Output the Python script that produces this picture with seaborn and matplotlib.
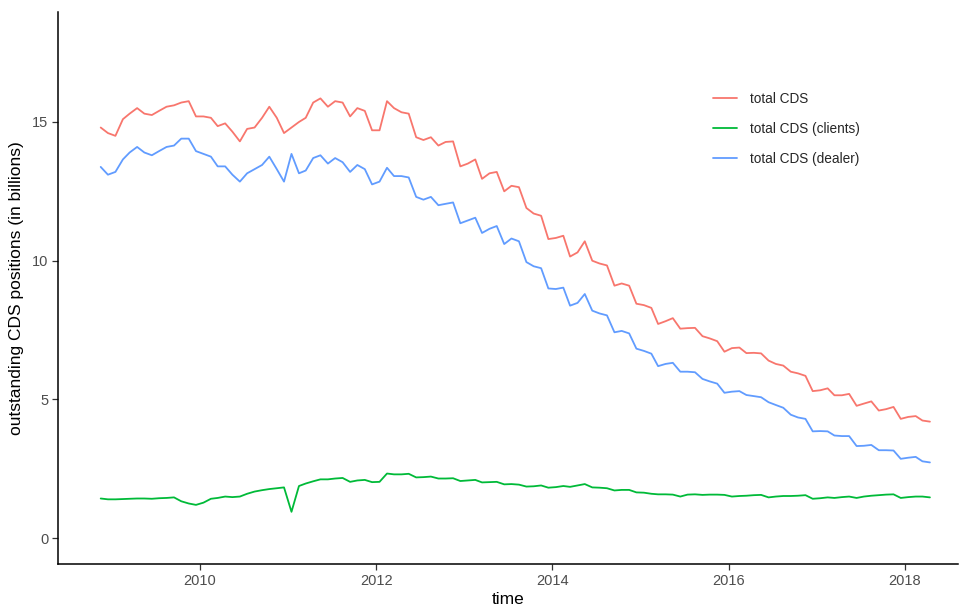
import pandas as pd
import numpy as np
import seaborn as sns
import matplotlib.pyplot as plt
import matplotlib.dates as mdates

# monthly readings (15th of each month), Nov 2008 - Apr 2018
dates = pd.date_range('2008-11-01', periods=114, freq='MS') + pd.Timedelta(days=14)

total_cds = [14.8, 14.6, 14.5, 15.1, 15.3, 15.5, 15.3, 15.25, 15.4, 15.55,
             15.6, 15.7, 15.75, 15.2, 15.2, 15.15, 14.85, 14.95, 14.65, 14.3,
             14.75, 14.8, 15.15, 15.55, 15.15, 14.6, 14.8, 15.0, 15.15, 15.7,
             15.85, 15.55, 15.75, 15.7, 15.2, 15.5, 15.4, 14.7, 14.7, 15.75,
             15.5, 15.35, 15.3, 14.45, 14.35, 14.45, 14.15, 14.28, 14.3, 13.4,
             13.5, 13.65, 12.95, 13.15, 13.2, 12.5, 12.7, 12.65, 11.9, 11.7,
             11.62, 10.78, 10.82, 10.9, 10.15, 10.3, 10.7, 10.0, 9.9, 9.83,
             9.1, 9.18, 9.1, 8.45, 8.4, 8.3, 7.72, 7.82, 7.93, 7.55,
             7.57, 7.58, 7.28, 7.2, 7.1, 6.72, 6.85, 6.87, 6.67, 6.68,
             6.66, 6.4, 6.28, 6.22, 6.0, 5.94, 5.85, 5.3, 5.33, 5.4,
             5.15, 5.15, 5.2, 4.77, 4.85, 4.93, 4.6, 4.65, 4.73, 4.3,
             4.37, 4.4, 4.24, 4.2]

total_clients = [1.43, 1.40, 1.40, 1.41, 1.42, 1.43, 1.43, 1.42, 1.44, 1.45,
                 1.47, 1.33, 1.25, 1.2, 1.28, 1.42, 1.45, 1.5, 1.48, 1.5,
                 1.6, 1.68, 1.73, 1.77, 1.8, 1.83, 0.95, 1.88, 1.97, 2.05,
                 2.12, 2.12, 2.15, 2.17, 2.03, 2.08, 2.1, 2.02, 2.03, 2.33,
                 2.3, 2.3, 2.32, 2.19, 2.2, 2.22, 2.15, 2.15, 2.16, 2.06,
                 2.08, 2.1, 2.01, 2.02, 2.03, 1.94, 1.95, 1.93, 1.86, 1.87,
                 1.9, 1.82, 1.84, 1.88, 1.85, 1.9, 1.95, 1.83, 1.82, 1.8,
                 1.72, 1.74, 1.74, 1.65, 1.64, 1.6, 1.58, 1.58, 1.57, 1.5,
                 1.57, 1.58, 1.56, 1.57, 1.57, 1.56, 1.5, 1.52, 1.53, 1.55,
                 1.56, 1.47, 1.5, 1.52, 1.52, 1.53, 1.55, 1.42, 1.44, 1.47,
                 1.45, 1.48, 1.5, 1.45, 1.5, 1.53, 1.55, 1.57, 1.58, 1.45,
                 1.48, 1.5, 1.5, 1.47]

total_dealer = [13.38, 13.1, 13.2, 13.65, 13.9, 14.1, 13.9, 13.8, 13.95, 14.1,
                14.15, 14.4, 14.4, 13.95, 13.85, 13.75, 13.4, 13.4, 13.1, 12.85,
                13.15, 13.3, 13.45, 13.75, 13.3, 12.85, 13.85, 13.15, 13.25, 13.7,
                13.8, 13.5, 13.7, 13.55, 13.2, 13.45, 13.3, 12.75, 12.85, 13.35,
                13.05, 13.05, 13.0, 12.3, 12.2, 12.3, 12.0, 12.05, 12.1, 11.35,
                11.45, 11.55, 11.0, 11.15, 11.25, 10.6, 10.8, 10.7, 9.95, 9.8,
                9.73, 9.0, 8.98, 9.03, 8.38, 8.48, 8.8, 8.2, 8.1, 8.03,
                7.42, 7.47, 7.38, 6.83, 6.75, 6.65, 6.2, 6.28, 6.32, 6.0,
                6.0, 5.98, 5.74, 5.65, 5.57, 5.24, 5.28, 5.3, 5.16, 5.12,
                5.08, 4.9, 4.8, 4.7, 4.45, 4.35, 4.3, 3.85, 3.86, 3.85,
                3.7, 3.68, 3.68, 3.32, 3.33, 3.36, 3.17, 3.17, 3.16, 2.86,
                2.9, 2.93, 2.77, 2.73]

labels = ['total CDS', 'total CDS (clients)', 'total CDS (dealer)']
colors = ['#F8766D', '#00BA38', '#619CFF']

df = pd.DataFrame({'time': dates, labels[0]: total_cds,
                   labels[1]: total_clients, labels[2]: total_dealer})
df = df.melt(id_vars='time', var_name='variable', value_name='value')

sns.set_theme(style='white')
plt.rcParams['font.family'] = ['Liberation Sans', 'DejaVu Sans']

fig = plt.figure(figsize=(9.62, 6.05), dpi=100)
ax = fig.add_axes([0.0603, 0.0678, 0.9357, 0.9122])
sns.lineplot(data=df, x='time', y='value', hue='variable', hue_order=labels,
             palette=colors, linewidth=1.3, ax=ax)

ax.set_xlim(pd.Timestamp('2008-05-22'), pd.Timestamp('2018-08-10'))
ax.set_ylim(-0.93, 18.96)
ax.set_yticks([0, 5, 10, 15])
ax.xaxis.set_major_locator(mdates.YearLocator(2))
ax.xaxis.set_major_formatter(mdates.DateFormatter('%Y'))

for s in ['top', 'right']:
    ax.spines[s].set_visible(False)
for s in ['left', 'bottom']:
    ax.spines[s].set_color('black')
    ax.spines[s].set_linewidth(1.1)
ax.tick_params(axis='both', which='major', length=4, width=0.9, color='#333333',
               labelcolor='#4d4d4d', labelsize=10.5, bottom=True, left=True, pad=3)

ax.set_xlabel('time', fontsize=12.5, color='black', labelpad=3)
ax.set_ylabel('outstanding CDS positions (in billions)', fontsize=12.5, color='black', labelpad=6)

leg = ax.legend(title=None, frameon=False, loc='upper left',
                bbox_to_anchor=(0.714, 0.877), fontsize=9.8,
                handlelength=1.75, labelspacing=1.15, handletextpad=1.0)
for line in leg.get_lines():
    line.set_linewidth(1.3)

fig.savefig('out.png', dpi=100)
